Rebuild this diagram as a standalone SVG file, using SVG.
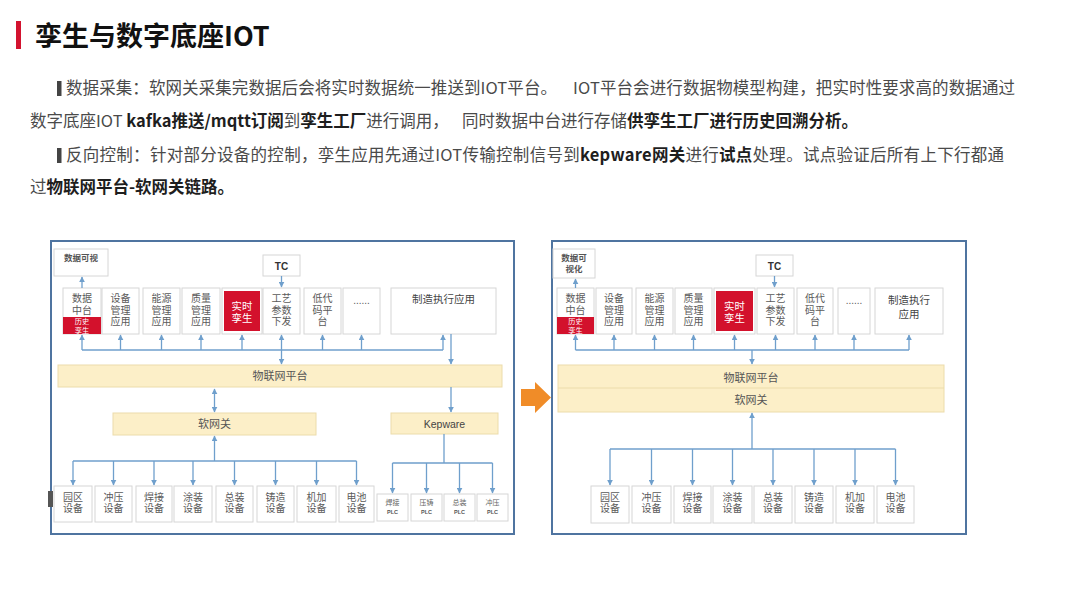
<svg xmlns="http://www.w3.org/2000/svg" width="1080" height="608" viewBox="0 0 1080 608">
<style>
text{font-family:"Noto Sans CJK SC","Noto Sans",sans-serif;}
.p{font-size:16.5px;fill:#4a4a4a;}
.b{font-weight:bold;fill:#1e1e1e;}
.frame{fill:#fff;stroke:#4f74a0;stroke-width:2;}
.box{fill:#fff;stroke:#d6d6d6;stroke-width:1;}
.red{fill:#d3112c;}
.bar{fill:#fcefc8;stroke:#ecdcab;stroke-width:1;}
.d{font-family:"Liberation Sans","Noto Sans CJK SC",sans-serif;text-anchor:middle;}
.t{font-size:10px;fill:#5a5a5a;}
.tw{font-size:10.4px;fill:#fff;}
.ts{font-size:7.2px;fill:#fff;}
.tb{font-size:10px;fill:#333;font-weight:bold;}
.tp{font-size:11px;fill:#555;}
.tv{font-size:8.5px;fill:#555;font-weight:bold;}
.tz{font-size:10.5px;fill:#444;}
.tplc{font-size:7px;fill:#666;}
.tplc2{font-size:5.5px;fill:#555;font-weight:bold;}
.ln{fill:none;stroke:#6f9fcc;stroke-width:1.3;}
.ar{fill:none;stroke:#6f9fcc;stroke-width:1.3;marker-end:url(#ah);}
.ar2{fill:none;stroke:#6f9fcc;stroke-width:1.3;marker-end:url(#ah);marker-start:url(#ah);}
</style>
<defs>
<marker id="ah" viewBox="0 0 10 10" refX="9" refY="5" markerWidth="6" markerHeight="6" markerUnits="userSpaceOnUse" orient="auto-start-reverse"><path d="M0,0 L10,5 L0,10 z" fill="#6f9fcc"/></marker>
</defs>
<rect width="1080" height="608" fill="#fff"/>

<!-- Title -->
<g id="title">
<rect x="16" y="21" width="5" height="28" fill="#d3132f"/>
<text x="35" y="46" font-size="27" font-weight="bold" fill="#111">孪生与数字底座IOT</text>
</g>

<!-- Paragraph -->
<g id="para">
<rect x="57" y="81" width="4.5" height="15" fill="#444"/>
<text class="p" x="66" y="94" textLength="491" lengthAdjust="spacing">数据采集：软网关采集完数据后会将实时数据统一推送到IOT平台。</text>
<text class="p" x="573" y="94" textLength="442" lengthAdjust="spacing">IOT平台会进行数据物模型构建，把实时性要求高的数据通过</text>
<text class="p" x="30" y="127">数字底座IOT <tspan class="b">kafka推送/mqtt订阅</tspan>到<tspan class="b">孪生工厂</tspan>进行调用，<tspan x="462">同时数据中台进行存储</tspan><tspan class="b">供孪生工厂进行历史回溯分析。</tspan></text>
<rect x="57" y="148" width="4.5" height="15" fill="#444"/>
<text class="p" x="66" y="161" textLength="938" lengthAdjust="spacing">反向控制：针对部分设备的控制，孪生应用先通过IOT传输控制信号到<tspan class="b">kepware网关</tspan>进行<tspan class="b">试点</tspan>处理。试点验证后所有上下行都通</text>
<text class="p" x="30" y="193">过<tspan class="b">物联网平台-软网关链路。</tspan></text>
</g>

<!-- Left diagram -->
<g id="left-frame">
<rect class="frame" x="51" y="241" width="463" height="293"/>
<rect x="48" y="491" width="5" height="16" fill="#555"/>
</g>

<g id="l-vis"><rect class="box" x="54" y="249" width="54" height="27"/><text class="d tv" x="81" y="261">数据可视</text></g>
<g id="l-tc"><rect class="box" x="263" y="255" width="37" height="21"/><text class="d tb" x="281.5" y="269.5">TC</text></g>

<g id="l-sjzt"><rect class="box" x="63" y="288" width="38" height="46"/><rect class="red" x="63" y="317" width="38" height="17"/>
<text class="d t" x="82" y="302">数据<tspan x="82" dy="11.5">中台</tspan></text>
<text class="d ts" x="82" y="324">历史<tspan x="82" dy="8.5">孪生</tspan></text></g>
<g id="l-sb"><rect class="box" x="102" y="288" width="37" height="46"/><text class="d t" x="120.5" y="302">设备<tspan x="120.5" dy="11.5">管理</tspan><tspan x="120.5" dy="11.5">应用</tspan></text></g>
<g id="l-ny"><rect class="box" x="143" y="288" width="37" height="46"/><text class="d t" x="161.5" y="302">能源<tspan x="161.5" dy="11.5">管理</tspan><tspan x="161.5" dy="11.5">应用</tspan></text></g>
<g id="l-zl"><rect class="box" x="182" y="288" width="38" height="46"/><text class="d t" x="201" y="302">质量<tspan x="201" dy="11.5">管理</tspan><tspan x="201" dy="11.5">应用</tspan></text></g>
<g id="l-ss"><rect class="box" x="222" y="288" width="40" height="46"/><rect class="red" x="224" y="291" width="36" height="40"/><text class="d tw" x="242" y="309.5">实时<tspan x="242" dy="12">孪生</tspan></text></g>
<g id="l-gy"><rect class="box" x="263" y="288" width="37" height="46"/><text class="d t" x="281.5" y="302">工艺<tspan x="281.5" dy="11.5">参数</tspan><tspan x="281.5" dy="11.5">下发</tspan></text></g>
<g id="l-dd"><rect class="box" x="304" y="288" width="37" height="46"/><text class="d t" x="322.5" y="302">低代<tspan x="322.5" dy="11.5">码平</tspan><tspan x="322.5" dy="11.5">台</tspan></text></g>
<g id="l-more"><rect class="box" x="343" y="288" width="37" height="46"/><text class="d t" x="361.5" y="304">......</text></g>
<g id="l-zz"><rect class="box" x="391" y="288" width="105" height="46"/><text class="d tz" x="443.5" y="303">制造执行应用</text></g>

<g id="l-iot"><rect class="bar" x="58" y="365" width="444" height="22"/><text class="d tp" x="280" y="380">物联网平台</text></g>
<g id="l-gw"><rect class="bar" x="113" y="413" width="203" height="22"/><text class="d tp" x="214.5" y="428">软网关</text></g>
<g id="l-kep"><rect class="bar" x="391" y="413" width="107" height="21"/><text class="d tz" x="444.5" y="427.5" font-size="10.5">Kepware</text></g>

<g id="l-d1"><rect class="box" x="54" y="486" width="38" height="36"/><text class="d t" x="73" y="500.5">园区<tspan x="73" dy="11.5">设备</tspan></text></g>
<g id="l-d2"><rect class="box" x="95" y="486" width="37" height="36"/><text class="d t" x="113.5" y="500.5">冲压<tspan x="113.5" dy="11.5">设备</tspan></text></g>
<g id="l-d3"><rect class="box" x="136" y="486" width="36" height="36"/><text class="d t" x="154" y="500.5">焊接<tspan x="154" dy="11.5">设备</tspan></text></g>
<g id="l-d4"><rect class="box" x="174" y="486" width="38" height="36"/><text class="d t" x="193" y="500.5">涂装<tspan x="193" dy="11.5">设备</tspan></text></g>
<g id="l-d5"><rect class="box" x="216" y="486" width="37" height="36"/><text class="d t" x="234.5" y="500.5">总装<tspan x="234.5" dy="11.5">设备</tspan></text></g>
<g id="l-d6"><rect class="box" x="257" y="486" width="37" height="36"/><text class="d t" x="275.5" y="500.5">铸造<tspan x="275.5" dy="11.5">设备</tspan></text></g>
<g id="l-d7"><rect class="box" x="297" y="486" width="39" height="36"/><text class="d t" x="316.5" y="500.5">机加<tspan x="316.5" dy="11.5">设备</tspan></text></g>
<g id="l-d8"><rect class="box" x="339" y="486" width="35" height="36"/><text class="d t" x="356.5" y="500.5">电池<tspan x="356.5" dy="11.5">设备</tspan></text></g>

<g id="l-p1"><rect class="box" x="377" y="494" width="31" height="27"/><text class="d tplc" x="392.5" y="505">焊接<tspan class="tplc2" x="392.5" dy="9">PLC</tspan></text></g>
<g id="l-p2"><rect class="box" x="411" y="494" width="31" height="27"/><text class="d tplc" x="426.5" y="505">压铸<tspan class="tplc2" x="426.5" dy="9">PLC</tspan></text></g>
<g id="l-p3"><rect class="box" x="444" y="494" width="31" height="27"/><text class="d tplc" x="459.5" y="505">总装<tspan class="tplc2" x="459.5" dy="9">PLC</tspan></text></g>
<g id="l-p4"><rect class="box" x="477" y="494" width="31" height="27"/><text class="d tplc" x="492.5" y="505">冲压<tspan class="tplc2" x="492.5" dy="9">PLC</tspan></text></g>

<!-- Transition arrow -->
<g id="arrow">
<polygon points="521,389 535,389 535,382 551,397.5 535,413 535,406 521,406" fill="#f08c28"/>
</g>

<!-- Right diagram -->
<g id="right-frame"><rect class="frame" x="552" y="241" width="414" height="293"/></g>

<g id="r-vis"><rect class="box" x="553" y="249" width="42" height="29"/><text class="d tv" x="574" y="261">数据可<tspan x="574" dy="11">视化</tspan></text></g>
<g id="r-tc"><rect class="box" x="756" y="255" width="37" height="21"/><text class="d tb" x="774.5" y="269.5">TC</text></g>

<g id="r-sjzt"><rect class="box" x="557" y="288" width="37" height="46"/><rect class="red" x="557" y="317" width="37" height="17"/>
<text class="d t" x="575.5" y="302">数据<tspan x="575.5" dy="11.5">中台</tspan></text>
<text class="d ts" x="575.5" y="324">历史<tspan x="575.5" dy="8.5">孪生</tspan></text></g>
<g id="r-sb"><rect class="box" x="596" y="288" width="36" height="46"/><text class="d t" x="614" y="302">设备<tspan x="614" dy="11.5">管理</tspan><tspan x="614" dy="11.5">应用</tspan></text></g>
<g id="r-ny"><rect class="box" x="636" y="288" width="37" height="46"/><text class="d t" x="654.5" y="302">能源<tspan x="654.5" dy="11.5">管理</tspan><tspan x="654.5" dy="11.5">应用</tspan></text></g>
<g id="r-zl"><rect class="box" x="675" y="288" width="37" height="46"/><text class="d t" x="693.5" y="302">质量<tspan x="693.5" dy="11.5">管理</tspan><tspan x="693.5" dy="11.5">应用</tspan></text></g>
<g id="r-ss"><rect class="box" x="714" y="288" width="41" height="46"/><rect class="red" x="716" y="291" width="37" height="40"/><text class="d tw" x="734.5" y="309.5">实时<tspan x="734.5" dy="12">孪生</tspan></text></g>
<g id="r-gy"><rect class="box" x="757" y="288" width="37" height="46"/><text class="d t" x="775.5" y="302">工艺<tspan x="775.5" dy="11.5">参数</tspan><tspan x="775.5" dy="11.5">下发</tspan></text></g>
<g id="r-dd"><rect class="box" x="797" y="288" width="36" height="46"/><text class="d t" x="815" y="302">低代<tspan x="815" dy="11.5">码平</tspan><tspan x="815" dy="11.5">台</tspan></text></g>
<g id="r-more"><rect class="box" x="838" y="288" width="32" height="46"/><text class="d t" x="854" y="304">......</text></g>
<g id="r-zz"><rect class="box" x="875" y="288" width="68" height="46"/><text class="d tz" x="909" y="304">制造执行<tspan x="909" dy="14">应用</tspan></text></g>

<g id="r-iot"><rect class="bar" x="558" y="365" width="386" height="47"/><line x1="558" y1="388" x2="944" y2="388" stroke="#ecdcab" stroke-width="1"/>
<text class="d tp" x="751" y="382">物联网平台</text><text class="d tp" x="751" y="404">软网关</text></g>

<g id="r-d1"><rect class="box" x="591" y="486" width="38" height="37"/><text class="d t" x="610" y="500.5">园区<tspan x="610" dy="11.5">设备</tspan></text></g>
<g id="r-d2"><rect class="box" x="632" y="486" width="39" height="37"/><text class="d t" x="651.5" y="500.5">冲压<tspan x="651.5" dy="11.5">设备</tspan></text></g>
<g id="r-d3"><rect class="box" x="674" y="486" width="37" height="37"/><text class="d t" x="692.5" y="500.5">焊接<tspan x="692.5" dy="11.5">设备</tspan></text></g>
<g id="r-d4"><rect class="box" x="713" y="486" width="39" height="37"/><text class="d t" x="732.5" y="500.5">涂装<tspan x="732.5" dy="11.5">设备</tspan></text></g>
<g id="r-d5"><rect class="box" x="754" y="486" width="38" height="37"/><text class="d t" x="773" y="500.5">总装<tspan x="773" dy="11.5">设备</tspan></text></g>
<g id="r-d6"><rect class="box" x="795" y="486" width="38" height="37"/><text class="d t" x="814" y="500.5">铸造<tspan x="814" dy="11.5">设备</tspan></text></g>
<g id="r-d7"><rect class="box" x="836" y="486" width="38" height="37"/><text class="d t" x="855" y="500.5">机加<tspan x="855" dy="11.5">设备</tspan></text></g>
<g id="r-d8"><rect class="box" x="877" y="486" width="37" height="37"/><text class="d t" x="895.5" y="500.5">电池<tspan x="895.5" dy="11.5">设备</tspan></text></g>

<!-- Connectors -->
<g id="connectors">
<path class="ar" d="M82,288 V277"/>
<path class="ar" d="M281.5,276 V287"/>
<path class="ln" d="M82,350 H443"/>
<path class="ar" d="M82,350 V335"/>
<path class="ar" d="M120.5,350 V335"/>
<path class="ar" d="M161.5,350 V335"/>
<path class="ar" d="M201,350 V335"/>
<path class="ar" d="M242,350 V335"/>
<path class="ar" d="M281.5,350 V335"/>
<path class="ar" d="M322.5,350 V335"/>
<path class="ar" d="M361.5,350 V335"/>
<path class="ar" d="M443,350 V335"/>
<path class="ar" d="M281.5,350 V364"/>
<path class="ar" d="M451,334 V364"/>
<path class="ar2" d="M214.5,389 V412"/>
<path class="ar" d="M214.5,461 V436"/>
<path class="ln" d="M73,461 H356.5"/>
<path class="ar" d="M73,461 V485"/>
<path class="ar" d="M113.5,461 V485"/>
<path class="ar" d="M154,461 V485"/>
<path class="ar" d="M193,461 V485"/>
<path class="ar" d="M234.5,461 V485"/>
<path class="ar" d="M275.5,461 V485"/>
<path class="ar" d="M316.5,461 V485"/>
<path class="ar" d="M356.5,461 V485"/>
<path class="ar" d="M451,387 V412"/>
<path class="ln" d="M444,434 V463 M392.5,463 H492.5"/>
<path class="ar" d="M392.5,463 V493"/>
<path class="ar" d="M426.5,463 V493"/>
<path class="ar" d="M459.5,463 V493"/>
<path class="ar" d="M492.5,463 V493"/>
<path class="ar" d="M575.5,288 V279"/>
<path class="ar" d="M774.5,276 V287"/>
<path class="ln" d="M575.5,350 H909"/>
<path class="ar" d="M575.5,350 V335"/>
<path class="ar" d="M614,350 V335"/>
<path class="ar" d="M654.5,350 V335"/>
<path class="ar" d="M693.5,350 V335"/>
<path class="ar" d="M734.5,350 V335"/>
<path class="ar" d="M775.5,350 V335"/>
<path class="ar" d="M815,350 V335"/>
<path class="ar" d="M854,350 V335"/>
<path class="ar" d="M909,350 V335"/>
<path class="ar" d="M752,350 V364"/>
<path class="ar" d="M752,449 V413"/>
<path class="ln" d="M610,449 H895.5"/>
<path class="ar" d="M610,449 V485"/>
<path class="ar" d="M651.5,449 V485"/>
<path class="ar" d="M692.5,449 V485"/>
<path class="ar" d="M732.5,449 V485"/>
<path class="ar" d="M773,449 V485"/>
<path class="ar" d="M814,449 V485"/>
<path class="ar" d="M855,449 V485"/>
<path class="ar" d="M895.5,449 V485"/>
</g>
</svg>
